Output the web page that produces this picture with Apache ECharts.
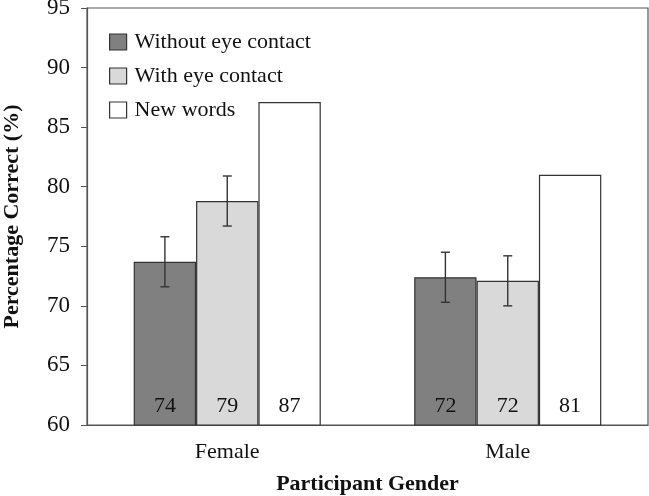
<!DOCTYPE html>
<html>
<head>
<meta charset="utf-8">
<script src="https://cdn.jsdelivr.net/npm/echarts@6/dist/echarts.min.js"></script>
<style>
  html, body { margin: 0; padding: 0; background: #fff; }
  #chart { width: 649px; height: 496px; }
</style>
</head>
<body>
<div id="chart"></div>
<script>
const categories = ['Female', 'Male'];
const seriesNames = ['Without eye contact', 'With eye contact', 'New words'];
const withoutEye = [73.7, 72.4];
const withEye = [78.8, 72.1];
const newWords = [87.1, 81.0];
const labelsWithout = ['74', '72'];
const labelsWith = ['79', '72'];
const labelsNew = ['87', '81'];
// error bar half widths (no bar for new words)
const errWithout = [2.1, 2.1];
const errWith = [2.1, 2.1];

const fills = ['#808080', '#d9d9d9', '#ffffff'];
const font = 'Liberation Serif';

const chart = echarts.init(document.getElementById('chart'), null, { renderer: 'canvas' });

function barSeries(name, values, labels, color) {
  return {
    name: name,
    type: 'bar',
    data: values,
    barGap: '0%',
    barCategoryGap: '33.3%',
    itemStyle: { color: color, borderColor: '#333', borderWidth: 1.2 },
    label: {
      show: true,
      position: 'insideBottom',
      distance: 8,
      formatter: (p) => labels[p.dataIndex],
      color: '#111',
      fontFamily: font,
      fontSize: 22
    },
    emphasis: { disabled: true }
  };
}

// index = position of the bar in its group (0..2)
function errorSeries(values, errs, index) {
  return {
    type: 'custom',
    silent: true,
    z: 5,
    data: values.map((v, i) => [i, v - errs[i], v + errs[i]]),
    renderItem: function (params, api) {
      const band = api.size([1, 0])[0];
      const barW = band * (1 - 0.333) / 3;
      const offset = (index - 1) * barW;
      const low = api.coord([api.value(0), api.value(1)]);
      const high = api.coord([api.value(0), api.value(2)]);
      const x = low[0] + offset;
      const cap = 4.5;
      const style = { stroke: '#333', lineWidth: 1.4 };
      return {
        type: 'group',
        children: [
          { type: 'line', shape: { x1: x, y1: low[1], x2: x, y2: high[1] }, style: style },
          { type: 'line', shape: { x1: x - cap, y1: low[1], x2: x + cap, y2: low[1] }, style: style },
          { type: 'line', shape: { x1: x - cap, y1: high[1], x2: x + cap, y2: high[1] }, style: style }
        ]
      };
    }
  };
}

const option = {
  backgroundColor: '#fff',
  animation: false,
  grid: {
    left: 87,
    right: 1,
    top: 8,
    bottom: 71,
    outerBoundsMode: 'none',
    containLabel: false,
    show: true,
    borderColor: '#555',
    borderWidth: 1.2,
    backgroundColor: 'transparent'
  },
  legend: {
    orient: 'vertical',
    left: 104,
    top: 26,
    icon: 'rect',
    itemWidth: 17,
    itemHeight: 16,
    itemGap: 12,
    selectedMode: false,
    data: seriesNames,
    itemStyle: { borderColor: '#333', borderWidth: 1.2 },
    textStyle: { fontFamily: font, fontSize: 22, color: '#111', padding: [0, 0, 0, 3] }
  },
  xAxis: {
    type: 'category',
    data: categories,
    name: 'Participant Gender',
    nameLocation: 'middle',
    nameGap: 48,
    nameMoveOverlap: false,
    nameTextStyle: { fontFamily: font, fontSize: 22, fontWeight: 'bold', color: '#111' },
    axisLine: { lineStyle: { color: '#555', width: 1.2 } },
    axisTick: { show: false },
    axisLabel: { fontFamily: font, fontSize: 22, color: '#111', margin: 16 }
  },
  yAxis: {
    type: 'value',
    min: 60,
    max: 95,
    interval: 5,
    name: 'Percentage Correct (%)',
    nameLocation: 'middle',
    nameGap: 64,
    nameMoveOverlap: false,
    nameTextStyle: { fontFamily: font, fontSize: 22, fontWeight: 'bold', color: '#111' },
    axisLine: { show: true, lineStyle: { color: '#555', width: 1.2 } },
    axisTick: { show: true, length: 6, lineStyle: { color: '#555' } },
    splitLine: { show: false },
    axisLabel: { fontFamily: font, fontSize: 23, color: '#111', margin: 17 }
  },
  series: [
    barSeries(seriesNames[0], withoutEye, labelsWithout, fills[0]),
    barSeries(seriesNames[1], withEye, labelsWith, fills[1]),
    barSeries(seriesNames[2], newWords, labelsNew, fills[2]),
    errorSeries(withoutEye, errWithout, 0),
    errorSeries(withEye, errWith, 1)
  ]
};

chart.setOption(option);
</script>
</body>
</html>
